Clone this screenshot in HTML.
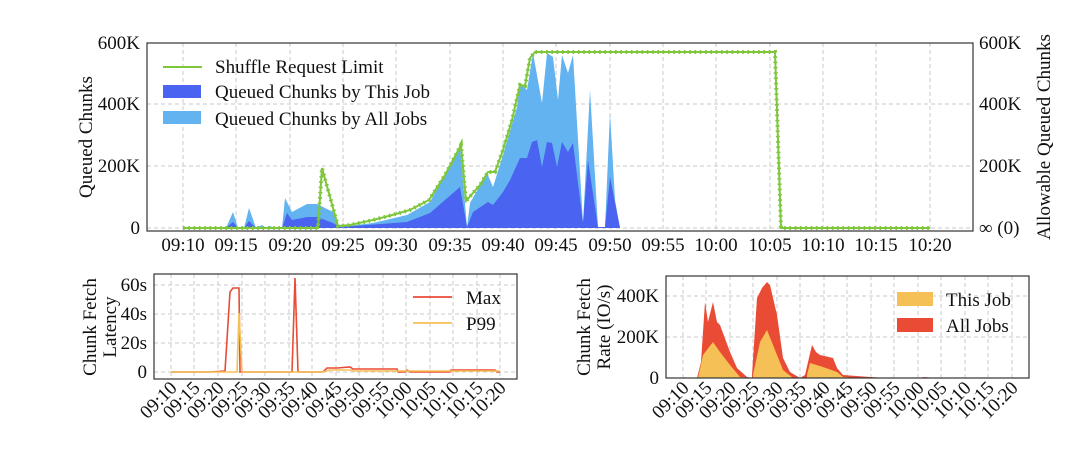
<!DOCTYPE html>
<html><head><meta charset="utf-8"><style>
body{margin:0;background:#fff}
svg{display:block;font-family:"Liberation Serif",serif}
.g line{stroke:#c8c8c8;stroke-dasharray:4,3;stroke-width:1}
</style></head><body>
<svg width="1080" height="464" viewBox="0 0 1080 464">
<!-- TOP CHART -->
<g class="g">
<line x1="147" y1="228" x2="973" y2="228"/><line x1="147" y1="166" x2="973" y2="166"/><line x1="147" y1="104" x2="973" y2="104"/>
<line x1="183" y1="43" x2="183" y2="231"/><line x1="236" y1="43" x2="236" y2="231"/><line x1="290" y1="43" x2="290" y2="231"/><line x1="343" y1="43" x2="343" y2="231"/><line x1="396" y1="43" x2="396" y2="231"/><line x1="450" y1="43" x2="450" y2="231"/><line x1="503" y1="43" x2="503" y2="231"/><line x1="556" y1="43" x2="556" y2="231"/><line x1="610" y1="43" x2="610" y2="231"/><line x1="663" y1="43" x2="663" y2="231"/><line x1="716" y1="43" x2="716" y2="231"/><line x1="770" y1="43" x2="770" y2="231"/><line x1="823" y1="43" x2="823" y2="231"/><line x1="876" y1="43" x2="876" y2="231"/><line x1="930" y1="43" x2="930" y2="231"/>
</g>
<polygon fill="#63b3f0" points="226,228 233,212 238,228 244,228 249,208 256,228 262,225 266,228 270,226 275,228 282,228 285,198 292,212 307,204 317,204 333,212 339,227 373,223 407,215 430,202 460,145 467,227 470,203 487,173 493,187 503,155 517,107 520,83 527,90 533,53 542,103 547,53 553,57 558,100 562,55 568,73 573,55 583,223 590,90 598,227 605,227 610,113 615,200 620,228"/>
<polygon fill="#4a63f0" points="226,228 233,222 238,228 244,228 249,221 256,228 282,228 287,213 292,220 307,217 317,217 333,223 340,227 407,222 430,213 460,187 467,227 473,212 488,202 493,205 503,192 510,180 520,158 527,158 532,142 537,140 542,167 547,142 552,143 557,167 562,142 568,152 573,143 583,223 588,160 598,227 605,227 610,177 620,228"/>
<polyline fill="none" stroke="#7ec63b" stroke-width="2" points="183,228 318,228 322,168 338,226 350,225 373,220 396,214 410,210 429,200 445,175 461,145 466,201 480,185 488,172 495,172 503,150 512,120 520,85 525,86 530,58 535,52 775,52 781,228 930,228"/>
<polyline fill="none" stroke="#7ec63b" stroke-width="4" stroke-dasharray="1.6,3.7" points="183,228 318,228 322,168 338,226 350,225 373,220 396,214 410,210 429,200 445,175 461,145 466,201 480,185 488,172 495,172 503,150 512,120 520,85 525,86 530,58 535,52 775,52 781,228 930,228"/>
<rect x="147" y="43" width="826" height="188" fill="none" stroke="#333" stroke-width="1.2"/>
<g font-size="19" fill="#111">
<g text-anchor="end"><text x="140" y="234">0</text><text x="140" y="172">200K</text><text x="140" y="110">400K</text><text x="140" y="49">600K</text></g>
<g text-anchor="start"><text x="979" y="234">∞ (0)</text><text x="979" y="172">200K</text><text x="979" y="110">400K</text><text x="979" y="49">600K</text></g>
<g text-anchor="middle"><text x="183" y="251">09:10</text><text x="236" y="251">09:15</text><text x="290" y="251">09:20</text><text x="343" y="251">09:25</text><text x="396" y="251">09:30</text><text x="450" y="251">09:35</text><text x="503" y="251">09:40</text><text x="556" y="251">09:45</text><text x="610" y="251">09:50</text><text x="663" y="251">09:55</text><text x="716" y="251">10:00</text><text x="770" y="251">10:05</text><text x="823" y="251">10:10</text><text x="876" y="251">10:15</text><text x="930" y="251">10:20</text></g>
<text transform="translate(92,137) rotate(-90)" text-anchor="middle">Queued Chunks</text>
<text transform="translate(1050,137) rotate(-90)" text-anchor="middle">Allowable Queued Chunks</text>
<line x1="163" y1="67" x2="202" y2="67" stroke="#7ec63b" stroke-width="2"/>
<rect x="163" y="85" width="38" height="13" fill="#4a63f0"/><rect x="163" y="111" width="38" height="13" fill="#63b3f0"/>
<text x="215" y="73">Shuffle Request Limit</text><text x="215" y="98">Queued Chunks by This Job</text><text x="215" y="125">Queued Chunks by All Jobs</text>
</g>

<!-- BOTTOM LEFT -->
<g class="g">
<line x1="154" y1="372" x2="517" y2="372"/><line x1="154" y1="343" x2="517" y2="343"/><line x1="154" y1="314" x2="517" y2="314"/><line x1="154" y1="285" x2="517" y2="285"/>
<line x1="171" y1="274" x2="171" y2="379"/><line x1="194" y1="274" x2="194" y2="379"/><line x1="218" y1="274" x2="218" y2="379"/><line x1="242" y1="274" x2="242" y2="379"/><line x1="265" y1="274" x2="265" y2="379"/><line x1="289" y1="274" x2="289" y2="379"/><line x1="312" y1="274" x2="312" y2="379"/><line x1="336" y1="274" x2="336" y2="379"/><line x1="359" y1="274" x2="359" y2="379"/><line x1="383" y1="274" x2="383" y2="379"/><line x1="406" y1="274" x2="406" y2="379"/><line x1="430" y1="274" x2="430" y2="379"/><line x1="453" y1="274" x2="453" y2="379"/><line x1="477" y1="274" x2="477" y2="379"/><line x1="500" y1="274" x2="500" y2="379"/>
</g>
<polyline fill="none" stroke="#ea4b35" stroke-width="1.6" points="171,372 210,372 225,371 230,292 233,288 239,288 240,372 292,372 295,278 298,372 323,372 327,368 337,368 350,367 353,369 397,369 398,372 405,372 407,370 410,372 450,372 451,370 495,370 497,372 500,372"/>
<polyline fill="none" stroke="#f5c055" stroke-width="1.6" points="171,372 237,372 239,313 242,372 323,372 330,370 350,370 355,371 500,371"/>
<rect x="154" y="274" width="363" height="105" fill="none" stroke="#333" stroke-width="1.2"/>
<g font-size="19" fill="#111">
<g text-anchor="end"><text x="147" y="378">0</text><text x="147" y="349">20s</text><text x="147" y="320">40s</text><text x="147" y="291">60s</text></g>
<text transform="translate(96,327) rotate(-90)" text-anchor="middle">Chunk Fetch</text>
<text transform="translate(116,327) rotate(-90)" text-anchor="middle">Latency</text>
<line x1="413" y1="297" x2="452" y2="297" stroke="#ea4b35" stroke-width="1.8"/><line x1="413" y1="323" x2="452" y2="323" stroke="#f5c055" stroke-width="1.8"/>
<text x="466" y="304">Max</text><text x="466" y="330">P99</text>
<g text-anchor="end">
<text transform="translate(178,389) rotate(-45)">09:10</text><text transform="translate(201,389) rotate(-45)">09:15</text><text transform="translate(225,389) rotate(-45)">09:20</text><text transform="translate(249,389) rotate(-45)">09:25</text><text transform="translate(272,389) rotate(-45)">09:30</text><text transform="translate(296,389) rotate(-45)">09:35</text><text transform="translate(319,389) rotate(-45)">09:40</text><text transform="translate(343,389) rotate(-45)">09:45</text><text transform="translate(366,389) rotate(-45)">09:50</text><text transform="translate(390,389) rotate(-45)">09:55</text><text transform="translate(413,389) rotate(-45)">10:00</text><text transform="translate(437,389) rotate(-45)">10:05</text><text transform="translate(460,389) rotate(-45)">10:10</text><text transform="translate(484,389) rotate(-45)">10:15</text><text transform="translate(507,389) rotate(-45)">10:20</text>
</g>
</g>

<!-- BOTTOM RIGHT -->
<g class="g">
<line x1="666" y1="337" x2="1029" y2="337"/><line x1="666" y1="296" x2="1029" y2="296"/>
<line x1="683" y1="276" x2="683" y2="378"/><line x1="706" y1="276" x2="706" y2="378"/><line x1="730" y1="276" x2="730" y2="378"/><line x1="753" y1="276" x2="753" y2="378"/><line x1="777" y1="276" x2="777" y2="378"/><line x1="800" y1="276" x2="800" y2="378"/><line x1="824" y1="276" x2="824" y2="378"/><line x1="847" y1="276" x2="847" y2="378"/><line x1="871" y1="276" x2="871" y2="378"/><line x1="894" y1="276" x2="894" y2="378"/><line x1="918" y1="276" x2="918" y2="378"/><line x1="941" y1="276" x2="941" y2="378"/><line x1="965" y1="276" x2="965" y2="378"/><line x1="988" y1="276" x2="988" y2="378"/><line x1="1012" y1="276" x2="1012" y2="378"/>
</g>
<polygon fill="#ea4b35" points="697,378 701,362 705,302 708,322 713,302 717,322 720,325 730,352 737,368 747,377 752,378 752,375 757,298 762,288 767,282 770,285 777,315 783,358 790,372 800,378 805,375 812,345 816,352 820,355 833,358 837,368 843,375 870,377 887,378 917,378 925,377 933,378"/>
<polygon fill="#f5c055" points="698,378 703,355 713,342 720,352 730,365 740,377 753,378 753,375 760,342 767,330 773,345 783,370 793,378 807,378 807,375 810,363 823,367 837,372 843,377 857,378 917,378 925,377.5 933,378"/>
<rect x="666" y="276" width="363" height="102" fill="none" stroke="#333" stroke-width="1.2"/>
<g font-size="19" fill="#111">
<g text-anchor="end"><text x="659" y="384">0</text><text x="659" y="343">200K</text><text x="659" y="302">400K</text></g>
<text transform="translate(590,327) rotate(-90)" text-anchor="middle">Chunk Fetch</text>
<text transform="translate(610,327) rotate(-90)" text-anchor="middle">Rate (IO/s)</text>
<rect x="897" y="292" width="36" height="14" fill="#f5c055"/><rect x="897" y="318" width="36" height="14" fill="#ea4b35"/>
<text x="946" y="306">This Job</text><text x="946" y="332">All Jobs</text>
<g text-anchor="end">
<text transform="translate(690,389) rotate(-45)">09:10</text><text transform="translate(713,389) rotate(-45)">09:15</text><text transform="translate(737,389) rotate(-45)">09:20</text><text transform="translate(760,389) rotate(-45)">09:25</text><text transform="translate(784,389) rotate(-45)">09:30</text><text transform="translate(807,389) rotate(-45)">09:35</text><text transform="translate(831,389) rotate(-45)">09:40</text><text transform="translate(854,389) rotate(-45)">09:45</text><text transform="translate(878,389) rotate(-45)">09:50</text><text transform="translate(901,389) rotate(-45)">09:55</text><text transform="translate(925,389) rotate(-45)">10:00</text><text transform="translate(948,389) rotate(-45)">10:05</text><text transform="translate(972,389) rotate(-45)">10:10</text><text transform="translate(995,389) rotate(-45)">10:15</text><text transform="translate(1019,389) rotate(-45)">10:20</text>
</g>
</g>
</svg>
</body></html>
